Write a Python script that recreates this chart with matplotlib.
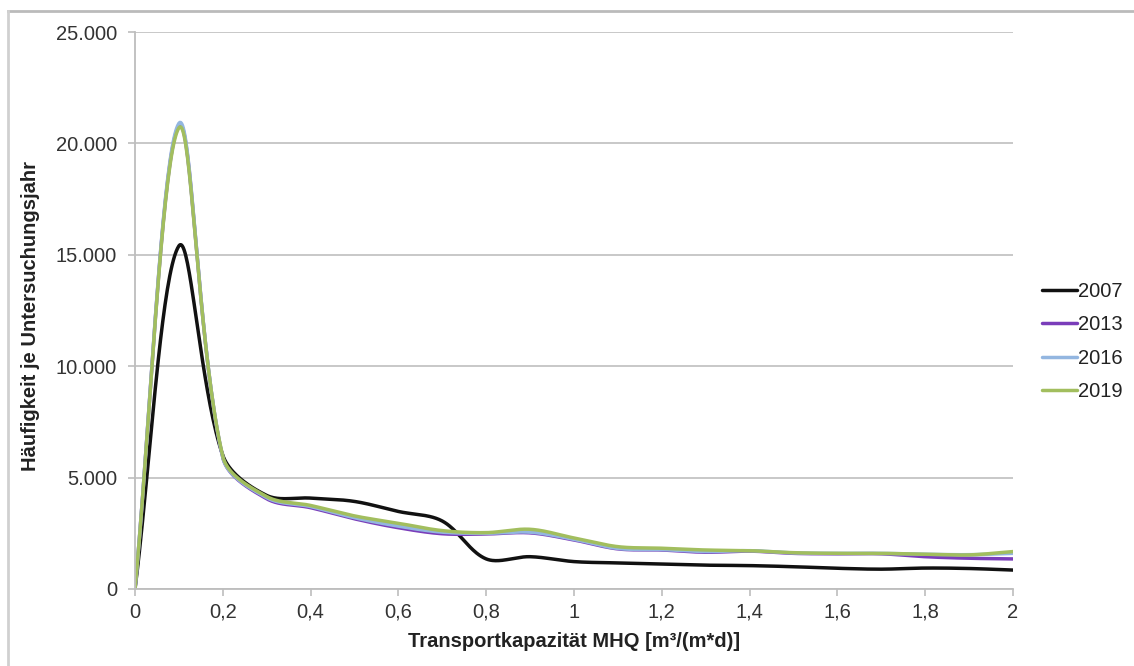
import numpy as np
import matplotlib
matplotlib.use("Agg")
import matplotlib.pyplot as plt
from matplotlib.lines import Line2D
from matplotlib.ticker import FuncFormatter, MultipleLocator

plt.rcParams['font.family'] = ['Liberation Sans', 'DejaVu Sans']

# Transport capacity classes (m³/(m*d))
x_vals = [0.0, 0.1, 0.2, 0.3, 0.4, 0.5, 0.6, 0.7, 0.8, 0.9, 1.0,
          1.1, 1.2, 1.3, 1.4, 1.5, 1.6, 1.7, 1.8, 1.9, 2.0]

# Frequency per survey year
y_2007 = [0, 15400, 6000, 4200, 4080, 3930, 3480, 3050, 1350, 1450, 1230,
          1170, 1120, 1070, 1050, 1000, 930, 890, 940, 920, 850]
y_2013 = [0, 20800, 5900, 4050, 3650, 3150, 2750, 2480, 2470, 2520, 2200,
          1800, 1750, 1650, 1700, 1600, 1580, 1580, 1450, 1380, 1350]
y_2016 = [0, 20900, 5900, 4100, 3700, 3200, 2820, 2550, 2500, 2550, 2230,
          1820, 1770, 1680, 1720, 1620, 1600, 1600, 1560, 1540, 1600]
y_2019 = [0, 20700, 5950, 4150, 3750, 3280, 2950, 2620, 2530, 2680, 2290,
          1900, 1830, 1750, 1720, 1630, 1600, 1600, 1560, 1530, 1680]

years = ['2007', '2013', '2016', '2019']
series = [y_2007, y_2013, y_2016, y_2019]
colors = ['#111111', '#7A3DBA', '#93B6E0', '#A2BE5E']

FS = 14.5


def smooth(ax, xs, ys, n=40):
    """Smoothed line through the points: cubic Bezier segments whose
    control arms are weighted by the neighbouring chord lengths on screen."""
    tr = ax.transData
    p = tr.transform(np.column_stack([xs, ys]).astype(float))
    m = len(p)
    d = np.hypot(*np.diff(p, axis=0).T)  # chord lengths
    out_ctrl = np.zeros_like(p)
    in_ctrl = np.zeros_like(p)
    for i in range(m):
        if i == 0:
            out_ctrl[i] = p[0] + (p[1] - p[0]) / 3.0
            continue
        if i == m - 1:
            in_ctrl[i] = p[-1] - (p[-1] - p[-2]) / 3.0
            continue
        tang = p[i + 1] - p[i - 1]
        dl, dr = d[i - 1], d[i]
        out_ctrl[i] = p[i] + tang * dr / (3.0 * (dl + dr))
        in_ctrl[i] = p[i] - tang * dl / (3.0 * (dl + dr))
    t = np.linspace(0, 1, n)[1:, None]
    pts = [p[0]]
    for i in range(m - 1):
        p1, b1, b2, p2 = p[i], out_ctrl[i], in_ctrl[i + 1], p[i + 1]
        seg = ((1 - t) ** 3) * p1 + 3 * ((1 - t) ** 2) * t * b1 \
            + 3 * (1 - t) * t ** 2 * b2 + t ** 3 * p2
        pts.extend(seg)
    pts = tr.inverted().transform(np.array(pts))
    return pts[:, 0], pts[:, 1]


fig = plt.figure(figsize=(11.34, 6.66), dpi=100)
ax = fig.add_axes([135 / 1134, 1 - 589 / 666, 878 / 1134, 557 / 666])
ax.set_xlim(0, 2)
ax.set_ylim(0, 25000)

for ys, c, lab in zip(series, colors, years):
    sx, sy = smooth(ax, x_vals, ys)
    ax.plot(sx, sy, color=c, lw=2.5, label=lab, solid_capstyle='round')

ax.set_xlim(0, 2)
ax.set_ylim(0, 25000)
ax.xaxis.set_major_locator(MultipleLocator(0.2))
ax.yaxis.set_major_locator(MultipleLocator(5000))


def fmt_x(v, pos):
    s = f"{v:.1f}".rstrip('0').rstrip('.')
    return s.replace('.', ',')


def fmt_y(v, pos):
    return f"{int(round(v)):,}".replace(',', '.')


ax.xaxis.set_major_formatter(FuncFormatter(fmt_x))
ax.yaxis.set_major_formatter(FuncFormatter(fmt_y))

ax.grid(axis='y', color='#C4C4C4', lw=1.3)
ax.set_axisbelow(True)
for s in ['top', 'right']:
    ax.spines[s].set_visible(False)
for s in ['left', 'bottom']:
    ax.spines[s].set_color('#BDBDBD')
    ax.spines[s].set_linewidth(1.3)
ax.tick_params(axis='both', colors='#BDBDBD', labelcolor='#333333',
               labelsize=FS, length=5, width=1.2)
ax.tick_params(axis='x', pad=5)
ax.tick_params(axis='y', pad=8)

ax.set_xlabel('Transportkapazität MHQ [m³/(m*d)]', fontsize=FS,
              fontweight='bold', color='#222222', labelpad=7)
ax.set_ylabel('Häufigkeit je Untersuchungsjahr', fontsize=FS,
              fontweight='bold', color='#222222')
ax.yaxis.set_label_coords(40 / 1134, 1 - 316 / 666, transform=fig.transFigure)

leg = ax.legend(loc='center left', bbox_to_anchor=(1042 / 1134, 0.487),
                bbox_transform=fig.transFigure, frameon=False, fontsize=FS,
                handlelength=1.75, handletextpad=0.05, labelspacing=0.72,
                borderpad=0, borderaxespad=0)
for t in leg.get_texts():
    t.set_color('#222222')

# Outer chart frame
fig.add_artist(Line2D([8 / 1134, 1.0], [1 - 11 / 666, 1 - 11 / 666],
                      transform=fig.transFigure, color='#BBBBBB', lw=2))
fig.add_artist(Line2D([8 / 1134, 8 / 1134], [0.0, 1 - 11 / 666],
                      transform=fig.transFigure, color='#D0D0D0', lw=2))

fig.savefig('out.png', dpi=100)
